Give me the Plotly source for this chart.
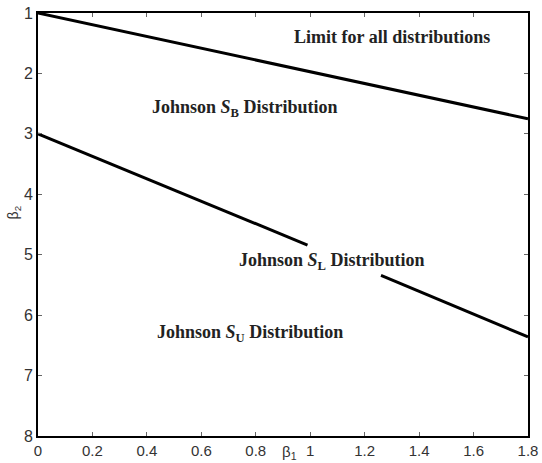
import plotly.graph_objects as go

# Data
upper_x = [0.0, 1.8]
upper_y = [1.0, 2.75]
lower_x1 = [0.0, 0.99]
lower_y1 = [3.0, 4.84]
lower_x2 = [1.26, 1.8]
lower_y2 = [5.34, 6.36]

label_texts = [
    "<b>Limit for all distributions</b>",
    "<b>Johnson <i>S</i><sub>B</sub> Distribution</b>",
    "<b>Johnson <i>S</i><sub>L</sub> Distribution</b>",
    "<b>Johnson <i>S</i><sub>U</sub> Distribution</b>",
]
label_x = [1.30, 0.76, 1.08, 0.78]
label_y = [1.40, 2.58, 5.12, 6.30]

x_ticks = [0, 0.2, 0.4, 0.6, 0.8, 1, 1.2, 1.4, 1.6, 1.8]
x_ticktext = ["0", "0.2", "0.4", "0.6", "0.8", "1", "1.2", "1.4", "1.6", "1.8"]
y_ticks = [1, 2, 3, 4, 5, 6, 7, 8]

fig = go.Figure()
line_style = dict(color="black", width=3)
fig.add_trace(go.Scatter(x=upper_x, y=upper_y, mode="lines", line=line_style, showlegend=False))
fig.add_trace(go.Scatter(x=lower_x1, y=lower_y1, mode="lines", line=line_style, showlegend=False))
fig.add_trace(go.Scatter(x=lower_x2, y=lower_y2, mode="lines", line=line_style, showlegend=False))

for t, x, y in zip(label_texts, label_x, label_y):
    fig.add_annotation(x=x, y=y, text=t, showarrow=False,
                       font=dict(family="Liberation Serif", size=18, color="#222"))

fig.add_annotation(x=0.925, y=0, yref="paper", yanchor="middle", yshift=-16,
                   text="β<sub>1</sub>", showarrow=False,
                   font=dict(family="Liberation Sans", size=15, color="#333"))
fig.add_annotation(x=0, xref="paper", xanchor="center", xshift=-24, y=4.3, yanchor="middle",
                   text="β<sub>2</sub>", textangle=-90, showarrow=False,
                   font=dict(family="Liberation Sans", size=14, color="#333"))

fig.update_xaxes(range=[0, 1.8], tickvals=x_ticks, ticktext=x_ticktext, automargin=False,
                 ticks="inside", ticklen=4, tickcolor="#666", mirror="allticks",
                 ticklabeloverflow="allow",
                 showline=True, linecolor="black", linewidth=2, showgrid=False, zeroline=False,
                 tickfont=dict(family="Liberation Sans", size=15, color="#333"))
fig.update_yaxes(range=[8, 1], tickvals=y_ticks, automargin=False,
                 ticks="inside", ticklen=4, tickcolor="#666", mirror="allticks",
                 ticklabeloverflow="allow",
                 showline=True, linecolor="black", linewidth=2, showgrid=False, zeroline=False,
                 tickfont=dict(family="Liberation Sans", size=16, color="#333"))

fig.update_layout(width=542, height=463, margin=dict(l=38, r=14, t=13, b=27),
                  plot_bgcolor="white", paper_bgcolor="white")
fig.write_html("out.html", config={"displayModeBar": False},
               post_script="document.body.style.margin='0';")
